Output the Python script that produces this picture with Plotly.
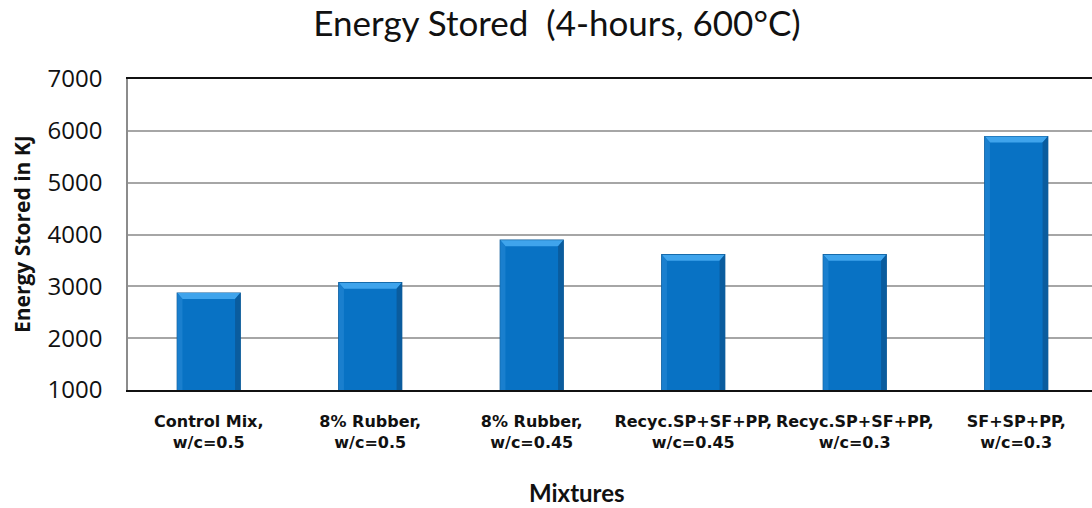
import plotly.graph_objects as go

# Mixture categories (two-line labels) and stored energy in kJ
mixtures = [
    "Control Mix,<br>w/c=0.5",
    "8% Rubber,<br>w/c=0.5",
    "8% Rubber,<br>w/c=0.45",
    "Recyc.SP+SF+PP,<br>w/c=0.45",
    "Recyc.SP+SF+PP,<br>w/c=0.3",
    "SF+SP+PP,<br>w/c=0.3",
]
energy_kj = [2870, 3070, 3890, 3610, 3610, 5890]
y_ticks = [1000, 2000, 3000, 4000, 5000, 6000, 7000]

positions = list(range(len(mixtures)))
BAR_W = 0.39

fig = go.Figure()
fig.add_trace(go.Bar(
    x=positions,
    y=energy_kj,
    width=BAR_W,
    marker=dict(color="#0872C4", line=dict(color="#0A5896", width=1.2)),
))

# bevel decoration on each bar: light top facet, darker right facet, lighter left facet
dx, dy = 0.032, 115
for p, v in zip(positions, energy_kj):
    x0, x1 = p - BAR_W / 2, p + BAR_W / 2
    fig.add_shape(type="path", xref="x", yref="y", layer="above",
                  path=f"M{x0},{v} L{x1},{v} L{x1-dx},{v-dy} L{x0+dx},{v-dy} Z",
                  fillcolor="#3FA4EC", line=dict(width=0))
    fig.add_shape(type="path", xref="x", yref="y", layer="above",
                  path=f"M{x1},{v} L{x1},1000 L{x1-dx},1000 L{x1-dx},{v-dy} Z",
                  fillcolor="#0A5C9E", line=dict(width=0))
    fig.add_shape(type="path", xref="x", yref="y", layer="above",
                  path=f"M{x0},{v} L{x0+dx},{v-dy} L{x0+dx},1000 L{x0},1000 Z",
                  fillcolor="#1A7FCE", line=dict(width=0))

fig.update_layout(
    width=1092,
    height=508,
    paper_bgcolor="white",
    plot_bgcolor="white",
    margin=dict(l=128, r=0, t=79, b=118),
    showlegend=False,
    title=dict(
        text="Energy Stored  (4-hours, 600\u00b0C)",
        xref="container", x=557 / 1092, xanchor="center",
        yref="container", y=1 - 24 / 508, yanchor="middle",
        font=dict(family="Lato", size=35, color="#111111"),
    ),
    xaxis=dict(
        range=[-0.5, 5.469],
        tickvals=positions, ticktext=mixtures, tickangle=0,
        automargin=False,
        showline=True, linecolor="#111111", linewidth=1.5, mirror=True,
        showgrid=False, ticks="", zeroline=False,
        tickfont=dict(family="DejaVu Sans", size=16, color="#111111", weight="bold"),
        ticklabelstandoff=16,
    ),
    yaxis=dict(
        range=[1000, 7000],
        tickvals=y_ticks, automargin=False,
        showline=True, linecolor="#8C8C8C", linewidth=1.5,
        showgrid=True, gridcolor="#A6A6A6", gridwidth=1.5,
        ticks="", ticklabelstandoff=19,
        tickfont=dict(family="Open Sans", size=24, color="#111111"),
        zeroline=False,
    ),
    annotations=[
        dict(text="Mixtures", xref="paper", yref="paper",
             x=(577 - 128) / 964, y=-(492 - 390) / 311, xanchor="center", yanchor="middle",
             showarrow=False, font=dict(family="Lato", size=24, color="#111111", weight="bold")),
        dict(text="Energy Stored in KJ", xref="paper", yref="paper", textangle=-90,
             x=-(128 - 22) / 964, y=(390 - 234) / 311, xanchor="center", yanchor="middle",
             showarrow=False, font=dict(family="Open Sans", size=21, color="#111111", weight="bold")),
    ],
)

fig.write_html("out.html")
